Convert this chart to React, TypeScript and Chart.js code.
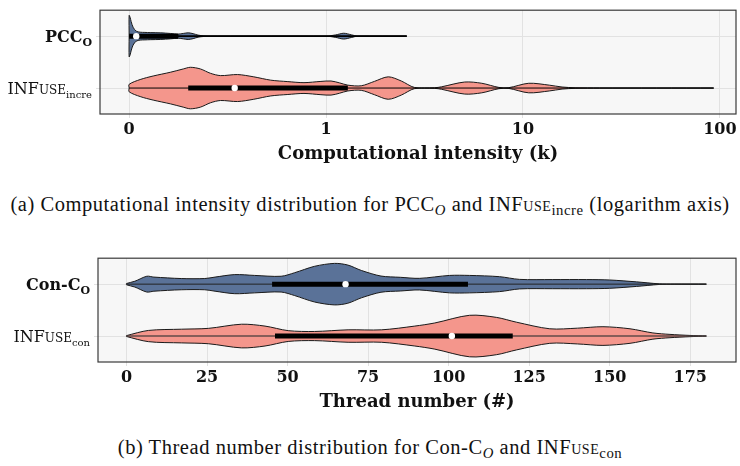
import React, { useEffect, useRef } from 'react';
import { Chart, registerables } from 'chart.js';
Chart.register(...registerables);

// ---------- (a) Computational intensity (k), symlog-style axis ----------
const intensityTickValues = [0, 1, 10, 100];
const intensityTickLabels = ['0', '1', '10', '100'];

// PCC_O violin: sample positions (k) and relative density (peak = 1)
const pccK = [0, 0.005, 0.01, 0.02, 0.036, 0.056, 0.08, 0.107, 0.158, 0.209, 0.25, 0.275, 0.3, 0.325, 0.35, 0.38, 0.45, 1.0, 1.12, 1.23, 1.35, 1.45, 2.57];
const pccDensity = [1, 0.9, 0.71, 0.43, 0.24, 0.19, 0.18, 0.17, 0.16, 0.13, 0.1, 0.13, 0.16, 0.12, 0.05, 0.015, 0, 0, 0.06, 0.14, 0.06, 0, 0];
// [min, q1, median, q3, max]
const pccBox = [0, 0, 0.036, 0.25, 2.57];

// INFUSE_incre violin
const infIncreK = [0, 0.056, 0.122, 0.209, 0.275, 0.311, 0.362, 0.413, 0.464, 0.551, 0.633, 0.719, 0.806, 0.888, 0.974, 1.06, 1.17, 1.29, 1.51, 1.76, 2.07, 2.41, 2.81, 3.56, 3.86, 5.06, 6.18, 7.55, 8.49, 10.7, 13.6, 15.8, 18.4, 24.5, 93];
const infIncreDensity = [0.18, 0.41, 0.58, 0.76, 0.92, 1.0, 0.92, 0.71, 0.6, 0.65, 0.54, 0.38, 0.31, 0.26, 0.32, 0.34, 0.25, 0.14, 0.11, 0.32, 0.54, 0.34, 0.03, 0.015, 0.06, 0.29, 0.23, 0.03, 0.02, 0.23, 0.14, 0.05, 0.015, 0.005, 0];
const infIncreBox = [0, 0.3, 0.536, 1.29, 93];

// ---------- (b) Thread number (#) ----------
const threadTickValues = [0, 25, 50, 75, 100, 125, 150, 175];
const threadTickLabels = ['0', '25', '50', '75', '100', '125', '150', '175'];

const conThreads = [0, 2.6, 6.3, 8.5, 17, 24.3, 27.5, 33.6, 39.8, 48, 52.2, 58.4, 64.6, 68.7, 72.9, 79, 85, 91, 100.3, 106.5, 115.8, 122, 132.3, 142.8, 150, 158.3, 165.4, 170, 180];
const conDensity = [0.03, 0.14, 0.38, 0.34, 0.27, 0.27, 0.34, 0.46, 0.42, 0.38, 0.55, 0.86, 1.0, 0.92, 0.66, 0.39, 0.33, 0.28, 0.42, 0.42, 0.36, 0.23, 0.22, 0.22, 0.2, 0.11, 0.015, 0, 0];
const conBox = [0, 45.2, 68, 106, 180];

const infConThreads = [0, 6.8, 17.1, 25.4, 35.7, 43, 50.2, 58.4, 68.8, 79.2, 89.5, 95.7, 106.5, 114.8, 121, 131.4, 140, 147.9, 156.3, 163.4, 168.7, 174.9, 180];
const infConDensity = [0.02, 0.27, 0.33, 0.37, 0.57, 0.48, 0.26, 0.22, 0.3, 0.3, 0.48, 0.63, 1.0, 0.9, 0.67, 0.35, 0.38, 0.45, 0.35, 0.15, 0.08, 0.03, 0];
const infConBox = [0, 46.1, 101, 119.9, 180];

// category labels (rich text segments: text, kind)
const topLabels = [
  [['PCC', 'bold'], ['O', 'boldsub']],
  [['INF', 'reg'], ['USE', 'sc'], ['incre', 'sub']],
];
const bottomLabels = [
  [['Con-C', 'bold'], ['O', 'boldsub']],
  [['INF', 'reg'], ['USE', 'sc'], ['con', 'sub']],
];

const BLUE = '#5a7298';
const SALMON = '#f4968c';
const HALF = 0.4;
const SERIF = '"DejaVu Serif", serif';

const symlog = (k: number) => (k <= 1 ? k : 1 + Math.log10(k));
const ident = (v: number) => v;

function violin(xs: number[], ds: number[], row: number, color: string, tf: (v: number) => number) {
  const X = xs.map(tf);
  const n = X.length;
  const up = [{ x: X[0], y: row }, ...X.map((x, i) => ({ x, y: row + ds[i] * HALF })), { x: X[n - 1], y: row }];
  const lo = [{ x: X[0], y: row }, ...X.map((x, i) => ({ x, y: row - ds[i] * HALF })), { x: X[n - 1], y: row }];
  const common = { type: 'line', borderColor: '#1a1a1a', borderWidth: 1, pointRadius: 0, tension: 0.3, order: 4, backgroundColor: color };
  return [
    { ...common, data: up, fill: false },
    { ...common, data: lo, fill: '-1' },
  ];
}

function boxSets(box: number[], row: number, tf: (v: number) => number, whiskerColor: string, whiskerWidth: number) {
  const [mn, q1, med, q3, mx] = box;
  return [
    { type: 'line', data: [{ x: tf(mn), y: row }, { x: tf(mx), y: row }], borderColor: whiskerColor, borderWidth: whiskerWidth, pointRadius: 0, fill: false, order: 3 },
    { type: 'line', data: [{ x: tf(q1), y: row }, { x: tf(q3), y: row }], borderColor: '#000', borderWidth: 5, borderCapStyle: 'butt', pointRadius: 0, fill: false, order: 2 },
    { type: 'line', data: [{ x: tf(med), y: row }], showLine: false, pointRadius: 3.2, pointBackgroundColor: '#fff', pointBorderWidth: 0, order: 1 },
  ];
}

const fontFor = (kind: string) => {
  switch (kind) {
    case 'bold': return { f: `bold 16px ${SERIF}`, dy: 0 };
    case 'boldsub': return { f: `bold 11px ${SERIF}`, dy: 4 };
    case 'reg': return { f: `16px ${SERIF}`, dy: 0 };
    case 'sc': return { f: `12px ${SERIF}`, dy: 0 };
    default: return { f: `10px ${SERIF}`, dy: 4 };
  }
};

const decorPlugin = (labels: any[][]) => ({
  id: 'decor',
  beforeDraw(chart: any) {
    const { ctx, chartArea: a } = chart;
    ctx.save();
    ctx.fillStyle = '#f7f7f7';
    ctx.fillRect(a.left, a.top, a.right - a.left, a.bottom - a.top);
    ctx.restore();
  },
  afterDraw(chart: any) {
    const { ctx, chartArea: a } = chart;
    ctx.save();
    ctx.strokeStyle = '#3a3a3a';
    ctx.lineWidth = 1.2;
    ctx.strokeRect(a.left, a.top, a.right - a.left, a.bottom - a.top);
    const ys = chart.scales.y;
    labels.forEach((segs, i) => {
      const row = 1 - i;
      const y = ys.getPixelForValue(row) + 6;
      let total = 0;
      segs.forEach(([t, k]: any) => { ctx.font = fontFor(k).f; total += ctx.measureText(t).width; });
      let x = a.left - 8 - total;
      ctx.fillStyle = '#111';
      ctx.textBaseline = 'alphabetic';
      ctx.textAlign = 'left';
      segs.forEach(([t, k]: any) => {
        const ff = fontFor(k);
        ctx.font = ff.f;
        ctx.fillText(t, x, y + ff.dy);
        x += ctx.measureText(t).width;
      });
    });
    ctx.restore();
  },
});

function ViolinChart(props: any) {
  const ref = useRef<HTMLCanvasElement>(null);
  useEffect(() => {
    const { datasets, xmin, xmax, tickPos, tickLabels, title, labels, yWidth, rightPad } = props;
    const chart = new Chart(ref.current as HTMLCanvasElement, {
      type: 'line',
      data: { datasets },
      options: {
        animation: false,
        responsive: false,
        layout: { padding: { top: 8, right: rightPad, left: 0, bottom: 0 } },
        plugins: { legend: { display: false }, tooltip: { enabled: false } },
        scales: {
          x: {
            type: 'linear',
            min: xmin,
            max: xmax,
            afterBuildTicks: (s: any) => { s.ticks = tickPos.map((v: number) => ({ value: v })); },
            afterFit: (s: any) => { s.height = 56; },
            ticks: {
              callback: (_v: any, i: number) => tickLabels[i],
              font: { family: SERIF, size: 16, weight: 'bold' },
              color: '#111',
              padding: 2,
              maxRotation: 0,
              autoSkip: false,
            },
            grid: { color: '#e2e2e2', lineWidth: 1, tickLength: 4 },
            border: { display: false },
            title: { display: true, text: title, font: { family: SERIF, size: 18, weight: 'bold' }, color: '#111', padding: { top: 0, bottom: 5 } },
          },
          y: {
            type: 'linear',
            min: -0.5,
            max: 1.5,
            afterBuildTicks: (s: any) => { s.ticks = [{ value: 0 }, { value: 1 }]; },
            afterFit: (s: any) => { s.width = yWidth; },
            ticks: { callback: () => '' },
            grid: { color: '#e2e2e2', lineWidth: 1, tickLength: 4 },
            border: { display: false },
          },
        },
      } as any,
      plugins: [decorPlugin(labels)],
    });
    return () => chart.destroy();
  }, []);
  return <canvas ref={ref} width={740} height={170} style={{ position: 'absolute', left: 0, top: props.top, width: 740, height: 170 }} />;
}

export default function App() {
  const topSets = [
    ...boxSets(pccBox, 1, symlog, '#000', 1.8),
    ...boxSets(infIncreBox, 0, symlog, '#000', 1),
    ...violin(pccK, pccDensity, 1, BLUE, symlog),
    ...violin(infIncreK, infIncreDensity, 0, SALMON, symlog),
  ];
  const bottomSets = [
    ...boxSets(conBox, 1, ident, '#222', 1),
    ...boxSets(infConBox, 0, ident, 'rgba(70,60,60,0.85)', 1.4),
    ...violin(conThreads, conDensity, 1, BLUE, ident),
    ...violin(infConThreads, infConDensity, 0, SALMON, ident),
  ];
  const cap: React.CSSProperties = { position: 'absolute', left: 0, width: 740, textAlign: 'center', fontFamily: '"Liberation Serif", serif', fontSize: 20.5, letterSpacing: '0.55px', color: '#111', whiteSpace: 'nowrap', lineHeight: '22px' };
  const sub: React.CSSProperties = { fontSize: '0.72em', verticalAlign: '-0.3em', lineHeight: 0 };
  return (
    <div style={{ position: 'absolute', left: 0, top: 0, width: 740, height: 466, background: '#fff' }}>
      <ViolinChart
        top={0}
        datasets={topSets}
        xmin={-0.148}
        xmax={3.082}
        tickPos={intensityTickValues.map(symlog)}
        tickLabels={intensityTickLabels}
        title="Computational intensity (k)"
        labels={topLabels}
        yWidth={100}
        rightPad={2}
      />
      <div style={{ ...cap, top: 193 }}>
        (a) Computational intensity distribution for PCC<span style={sub}><i>O</i></span> and INF<span style={{ fontVariant: 'small-caps' }}>use</span><span style={sub}>incre</span> (logarithm axis)
      </div>
      <ViolinChart
        top={248}
        datasets={bottomSets}
        xmin={-8.84}
        xmax={189.2}
        tickPos={threadTickValues}
        tickLabels={threadTickLabels}
        title="Thread number (#)"
        labels={bottomLabels}
        yWidth={98}
        rightPad={3}
      />
      <div style={{ ...cap, top: 436 }}>
        (b) Thread number distribution for Con-C<span style={sub}><i>O</i></span> and INF<span style={{ fontVariant: 'small-caps' }}>use</span><span style={sub}>con</span>
      </div>
    </div>
  );
}
